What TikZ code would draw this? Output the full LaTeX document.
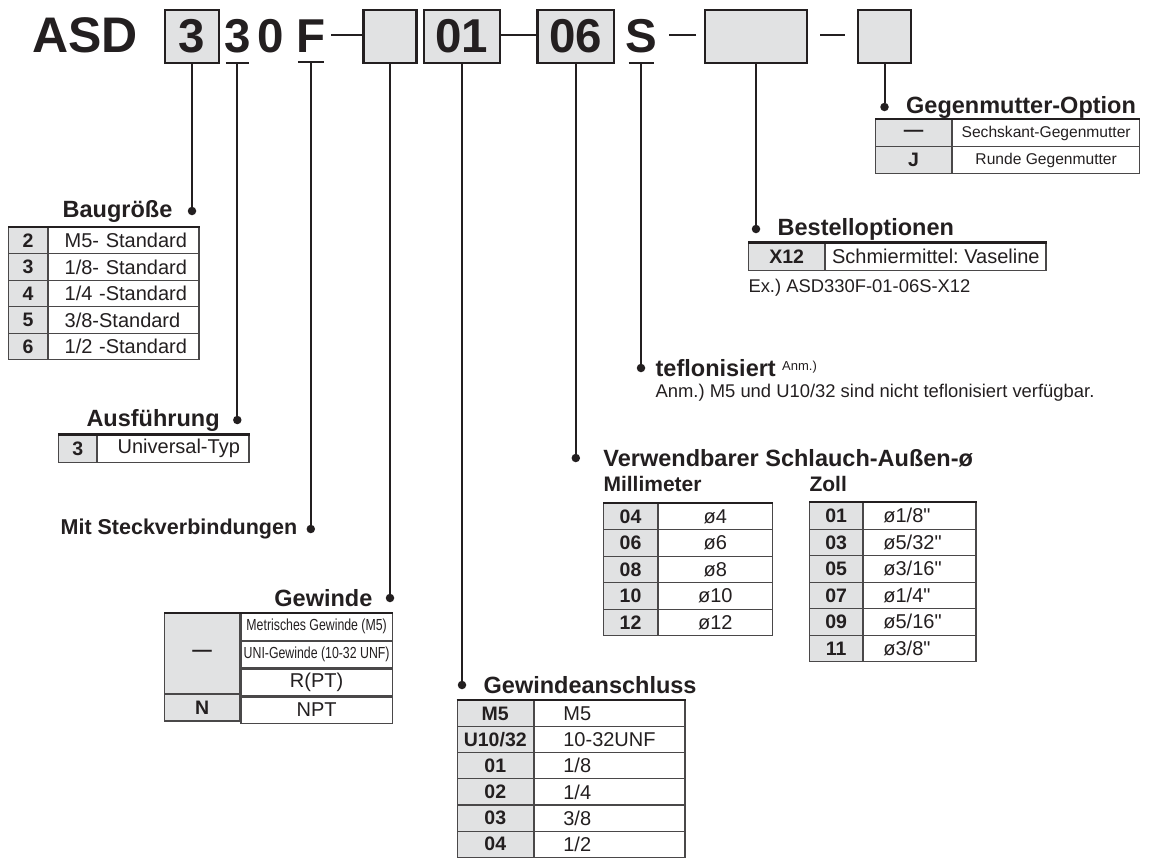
\documentclass[tikz,border=0pt]{standalone}
\usepackage{fontspec}
\setmainfont{Liberation Sans}
\newfontfamily\bodyfont{Liberation Sans}
\newfontfamily\narrowfont[FakeStretch=0.77]{Liberation Sans}
\usetikzlibrary{positioning, calc}
\definecolor{inkA}{HTML}{231F20}
\definecolor{inkB}{HTML}{4A4849}
\definecolor{grayB}{HTML}{E1E2E3}
\frenchspacing
\tikzset{
  codebox/.style={
    draw=inkA, fill=grayB, line width=2.2pt, inner sep=0pt,
    minimum height=53pt, text=inkA,
    font=\bodyfont\fontsize{47.5}{54}\selectfont\bfseries
  },
  codechar/.style={
    inner sep=0pt, anchor=base, text=inkA,
    font=\bodyfont\fontsize{47.5}{54}\selectfont\bfseries
  },
  codedash/.style={draw=inkA, line width=2.8pt},
  uline/.style={draw=inkA, line width=2pt},
  leader/.style={draw=inkA, line width=2pt},
  dotmark/.style={circle, fill=inkA, inner sep=0pt, minimum size=8.5pt},
  heading/.style={inner sep=0pt, text=inkA, font=\bodyfont\fontsize{23.5}{28}\selectfont\bfseries},
  subhead/.style={inner sep=0pt, text=inkA, font=\bodyfont\fontsize{21}{25}\selectfont\bfseries},
  note/.style={inner sep=0pt, text=inkA, font=\bodyfont\fontsize{18.4}{22}\selectfont},
  keycell/.style={
    draw=inkB, fill=grayB, line width=1.1pt, inner sep=0pt, anchor=north west,
    text=inkA, font=\bodyfont\fontsize{19.5}{23}\selectfont\bfseries
  },
  desccell/.style={
    draw=inkB, fill=white, line width=1.1pt, inner sep=0pt, anchor=north west,
    text=inkA, font=\bodyfont\fontsize{20}{24}\selectfont
  },
  leftcell/.style 2 args={
    desccell, text width=#1, align=left, execute at begin node={\hspace*{#2}}
  },
  smallcell/.style={desccell, font=\narrowfont\fontsize{16}{19}\selectfont},
  tabtop/.style={draw=inkA, line width=2.4pt}
}

\begin{document}
\frenchspacing
\begin{tikzpicture}[x=1pt, y=-1pt]
  \useasboundingbox (0,0) rectangle (1153,857);

  % order code
  \node[inner sep=0pt, anchor=base west, text=inkA,
    font=\bodyfont\fontsize{50}{56}\selectfont\bfseries] (code-asd) at (32,52) {ASD};
  \node[codebox, minimum width=54pt] (box-size) at (192,36.5) {3};
  \node[codechar] (ch-type) at (237.3,52) {3};
  \node[codechar] (ch-zero) at (271,52) {0};
  \node[codechar] (ch-push) at (310.8,52) {F};
  \node[codebox, minimum width=53pt] (box-thread) at (390,36.5) {};
  \node[codebox, minimum width=76pt] (box-port) at (462,36.5) {01};
  \node[codebox, minimum width=76.5pt] (box-tube) at (575.8,36.5) {06};
  \node[codechar] (ch-teflon) at (641,52) {S};
  \node[codebox, minimum width=102pt] (box-option) at (756,36.5) {};
  \node[codebox, minimum width=53pt] (box-nut) at (884.5,36.5) {};

  \draw[codedash] ([yshift=1.5pt]box-thread.west) -- ++(-31.5,0);
  \draw[codedash] ([yshift=1.5pt]box-port.east) -- ([yshift=1.5pt]box-tube.west);
  \draw[codedash] ([xshift=-7.7pt, yshift=1.5pt]box-option.west) -- ++(-27.3,0);
  \draw[codedash] ([xshift=12pt, yshift=1.5pt]box-option.east) -- ([xshift=-12pt, yshift=1.5pt]box-nut.west);

  \coordinate (ul-type) at ([yshift=-10pt]ch-type.south);
  \coordinate (ul-push) at ([yshift=-10pt]ch-push.south);
  \coordinate (ul-teflon) at ([yshift=-10pt]ch-teflon.south);
  \draw[uline] ([xshift=-11.5pt]ul-type) -- ([xshift=11.5pt]ul-type);
  \draw[uline] ([xshift=-13pt]ul-push) -- ([xshift=13pt]ul-push);
  \draw[uline] ([xshift=-12.5pt]ul-teflon) -- ([xshift=12.5pt]ul-teflon);

  % leaders and headings
  \node[dotmark] (dot-size) at (box-size.south |- 0,211) {};
  \node[heading, left=15pt of dot-size] (head-size) {Baugröße};
  \node[dotmark] (dot-type) at (ul-type |- 0,420) {};
  \node[heading, left=13pt of dot-type] (head-type) {Ausführung};
  \node[dotmark] (dot-push) at (ul-push |- 0,529) {};
  \node[heading, left=9pt of dot-push, font=\bodyfont\fontsize{21.5}{26}\selectfont\bfseries]
    (head-push) {Mit Steckverbindungen};
  \node[dotmark] (dot-thread) at (box-thread.south |- 0,598) {};
  \node[heading, left=13pt of dot-thread] (head-thread) {Gewinde};
  \node[dotmark] (dot-port) at (box-port.south |- 0,685) {};
  \node[heading, right=17pt of dot-port] (head-port) {Gewindeanschluss};
  \node[dotmark] (dot-tube) at (box-tube.south |- 0,458) {};
  \node[heading, right=23pt of dot-tube] (head-tube) {Verwendbarer Schlauch-Außen-ø};
  \node[dotmark] (dot-teflon) at (ul-teflon |- 0,368) {};
  \node[heading, right=10pt of dot-teflon] (head-teflon) {teflonisiert};
  \node[dotmark] (dot-option) at (box-option.south |- 0,229) {};
  \node[heading, right=17pt of dot-option] (head-option) {Bestelloptionen};
  \node[dotmark] (dot-nut) at (box-nut.south |- 0,107) {};
  \node[heading, right=17pt of dot-nut] (head-nut) {Gegenmutter-Option};

  \draw[leader] (box-size) -- (dot-size);
  \draw[leader] (ul-type) -- (dot-type);
  \draw[leader] (ul-push) -- (dot-push);
  \draw[leader] (box-thread) -- (dot-thread);
  \draw[leader] (box-port) -- (dot-port);
  \draw[leader] (box-tube) -- (dot-tube);
  \draw[leader] (ul-teflon) -- (dot-teflon);
  \draw[leader] (box-option) -- (dot-option);
  \draw[leader] (box-nut) -- (dot-nut);

  % Baugroesse
  \foreach \k/\d [count=\i from 0] in {2/{M5- Standard}, 3/{1/8- Standard},
      4/{1/4 -Standard}, 5/{3/8-Standard}, 6/{1/2 -Standard}} {
    \node[keycell, minimum width=38.4pt, minimum height=26.5pt] (size-k\i)
      at (8.3,{226.7+26.5*\i}) {\k};
    \node[leftcell={150.6pt}{16.3pt}, minimum height=26.5pt]
      (size-d\i) at (size-k\i.north east) {\d};
  }
  \draw[tabtop] (size-k0.north west) -- (size-d0.north east);

  % Ausfuehrung
  \node[keycell, minimum width=37.7pt, minimum height=27.4pt] (type-k0) at (58.3,434.3) {3};
  \node[leftcell={151.3pt}{20pt}, minimum height=27.4pt]
    (type-d0) at (type-k0.north east) {Universal-Typ};
  \draw[tabtop] (type-k0.north west) -- (type-d0.north east);

  % Gewinde
  \node[keycell, minimum width=75.3pt, minimum height=80.4pt] (thread-k0) at (164,612.7) {—};
  \node[keycell, minimum width=75.3pt, minimum height=26.2pt] (thread-k1) at (thread-k0.south west) {N};
  \node[smallcell, minimum width=151.4pt, minimum height=26.8pt] (thread-d0)
    at (thread-k0.north east) {Metrisches Gewinde (M5)};
  \node[smallcell, minimum width=151.4pt, minimum height=26.8pt] (thread-d1)
    at (thread-d0.south west) {UNI-Gewinde (10-32 UNF)};
  \node[desccell, minimum width=151.4pt, minimum height=26.8pt] (thread-d2)
    at (thread-d1.south west) {R(PT)};
  \node[desccell, minimum width=151.4pt, minimum height=26.2pt] (thread-d3)
    at (thread-d2.south west) {NPT};
  \draw[tabtop] (thread-k0.north west) -- (thread-d0.north east);

  % Gewindeanschluss
  \foreach \k/\d [count=\i from 0] in {M5/M5, {U10/32}/{10-32UNF}, 01/{1/8},
      02/{1/4}, 03/{3/8}, 04/{1/2}} {
    \node[keycell, minimum width=76pt, minimum height=26.1pt] (port-k\i)
      at (456.7,{700+26.1*\i}) {\k};
    \node[leftcell={150.6pt}{29pt}, minimum height=26.1pt]
      (port-d\i) at (port-k\i.north east) {\d};
  }
  \draw[tabtop] (port-k0.north west) -- (port-d0.north east);

  % Schlauch: Millimeter
  \foreach \k/\d [count=\i from 0] in {04/ø4, 06/ø6, 08/ø8, 10/ø10, 12/ø12} {
    \node[keycell, minimum width=53.4pt, minimum height=26.5pt] (tube-mk\i)
      at (603.3,{502.7+26.5*\i}) {\k};
    \node[desccell, minimum width=114pt, minimum height=26.5pt] (tube-md\i)
      at (tube-mk\i.north east) {\d};
  }
  \draw[tabtop] (tube-mk0.north west) -- (tube-md0.north east);
  \node[subhead, anchor=south west] (tube-mm) at ([yshift=11pt]tube-mk0.north west) {Millimeter};

  % Schlauch: Zoll
  \foreach \k/\d [count=\i from 0] in {01/{ø1/8"}, 03/{ø5/32"}, 05/{ø3/16"},
      07/{ø1/4"}, 09/{ø5/16"}, 11/{ø3/8"}} {
    \node[keycell, minimum width=52.7pt, minimum height=26.5pt] (tube-zk\i)
      at (809.3,{502+26.5*\i}) {\k};
    \node[leftcell={112.3pt}{19.7pt}, minimum height=26.5pt]
      (tube-zd\i) at (tube-zk\i.north east) {\d};
  }
  \draw[tabtop] (tube-zk0.north west) -- (tube-zd0.north east);
  \node[subhead, anchor=south west] (tube-inch) at ([yshift=10.3pt]tube-zk0.north west) {Zoll};

  % teflonisiert
  \node[inner sep=0pt, anchor=north west, text=inkA, font=\bodyfont\fontsize{13}{15}\selectfont]
    (head-teflon-mark) at ([xshift=6pt, yshift=-2pt]head-teflon.north east) {Anm.)};
  \node[note, anchor=north west] (teflon-note) at ([yshift=-7pt]head-teflon.south west)
    {Anm.) M5 und U10/32 sind nicht teflonisiert verfügbar.};

  % Bestelloptionen
  \node[keycell, minimum width=75.7pt, minimum height=27.7pt] (option-k0) at (748.3,242.3) {X12};
  \node[desccell, minimum width=220.3pt, minimum height=27.7pt] (option-d0)
    at (option-k0.north east) {Schmiermittel: Vaseline};
  \draw[tabtop] (option-k0.north west) -- (option-d0.north east);
  \node[note, anchor=north west] (option-ex) at ([yshift=-7.5pt]option-k0.south west)
    {Ex.) ASD330F-01-06S-X12};

  % Gegenmutter
  \foreach \k/\d [count=\i from 0] in {—/Sechskant-Gegenmutter, J/Runde Gegenmutter} {
    \node[keycell, minimum width=76pt, minimum height=27pt] (nut-k\i)
      at (875,{119+27*\i}) {\k};
    \node[desccell, minimum width=187pt, minimum height=27pt,
      font=\bodyfont\fontsize{15.6}{19}\selectfont] (nut-d\i) at (nut-k\i.north east) {\d};
  }
  \draw[tabtop] (nut-k0.north west) -- (nut-d0.north east);
\end{tikzpicture}
\end{document}
